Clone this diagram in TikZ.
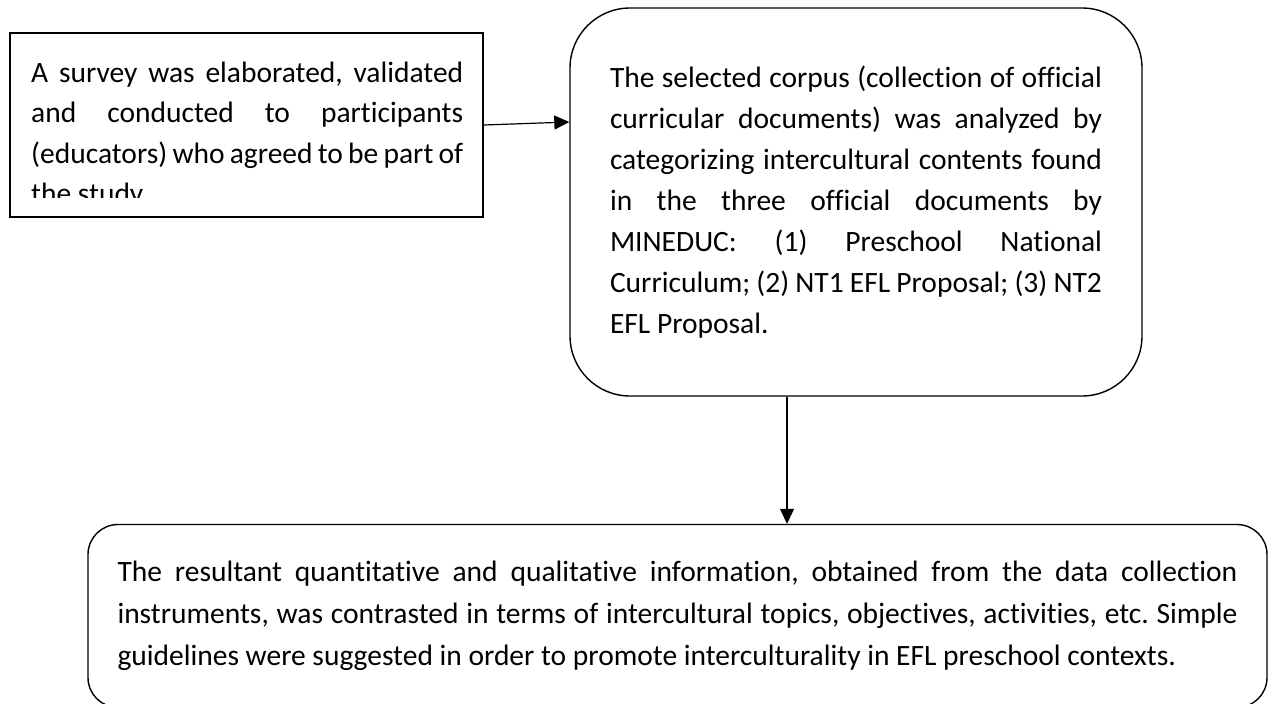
\documentclass[tikz,border=0pt]{standalone}
\usepackage{fontspec}
\setmainfont{Carlito}[Ligatures={NoCommon}]
\usetikzlibrary{arrows.meta, calc, positioning}
\tolerance=10000
\hbadness=10000
\hyphenpenalty=10000
\frenchspacing

\begin{document}
\begin{tikzpicture}[x=1pt, y=-1pt,
	frame/.style={draw=black, line width=1.3pt, inner sep=0pt},
	roundbox/.style={frame, line width=1.4pt, rounded corners=#1},
	txt/.style={align=justify, inner sep=0pt, font=\fontsize{29.5}{40.5}\selectfont},
	arr/.style={-{Triangle[length=15pt, width=14pt]}, line width=1.2pt}]
		\useasboundingbox (0,0) rectangle (1272,704);
		% first step: the survey (text runs out of the box)
		\node[frame, minimum width=473pt, minimum height=184pt] (survey) at (246.5,125) {};
		\begin{scope}
			\clip (survey.north west) rectangle ($(survey.south east)+(0,-20)$);
			\node[txt, text width=432pt, anchor=base west] (surveytext) at (31,82) {A survey was elaborated, validated\linebreak and conducted to participants\linebreak (educators) who agreed to be part of\linebreak the study.};
		\end{scope}
		% second step: the corpus
		\node[roundbox=60pt, minimum width=572pt, minimum height=388pt, txt, text width=492pt, font=\fontsize{29.5}{41}\selectfont] (corpus) at (856,202) {The selected corpus (collection of official\linebreak curricular documents) was analyzed by\linebreak categorizing intercultural contents found\linebreak in the three official documents by\linebreak MINEDUC: (1) Preschool National\linebreak Curriculum; (2) NT1 EFL Proposal; (3) NT2\linebreak EFL Proposal.};
		% third step: the results
		\node[roundbox=30pt, minimum width=1179pt, minimum height=183pt, txt, text width=1120pt, font=\fontsize{29.5}{42}\selectfont] (result) at (677.5,616) {The resultant quantitative and qualitative information, obtained from the data collection\linebreak instruments, was contrasted in terms of intercultural topics, objectives, activities, etc. Simple\linebreak guidelines were suggested in order to promote interculturality in EFL preschool contexts.};
		\draw[arr] (survey.east) -- ($(corpus.west |- survey.east)+(0,-3)$);
		\draw[arr] ([xshift=-69pt]corpus.south) -- ([xshift=-69pt]corpus.south |- result.north);
\end{tikzpicture}
\end{document}
